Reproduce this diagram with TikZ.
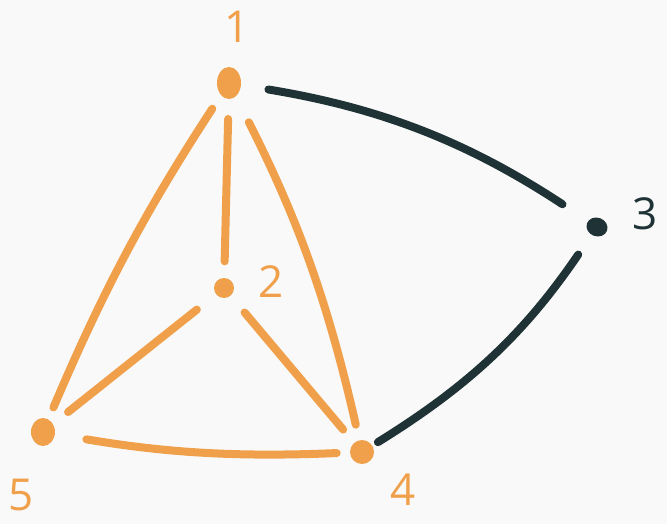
\documentclass[tikz,border=0pt]{standalone}
\usepackage{fontspec}
\setmainfont{Open Sans}
\usetikzlibrary{shapes.geometric}
\definecolor{orng}{HTML}{F0A04B}
\definecolor{dark}{HTML}{1F3336}
\definecolor{bg}{HTML}{F9F9F9}
\begin{document}
\begin{tikzpicture}[x=0.75pt,y=-0.75pt,
  dotnode/.style={circle,inner sep=0pt,draw=none},
  lbl/.style={font=\fontsize{33}{33}\selectfont,inner sep=0pt},
  oedge/.style={draw=orng,line width=6pt,line cap=round},
  dedge/.style={draw=dark,line width=6pt,line cap=round}]
\fill[bg] (0,0) rectangle (667,524);
\useasboundingbox (0,0) rectangle (667,524);
\coordinate (n1) at (229,83);
\coordinate (n2) at (224,288);
\coordinate (n3) at (597,227);
\coordinate (n4) at (362,452);
\coordinate (n5) at (43,432);
\node[ellipse,inner sep=0pt,fill=orng,minimum width=18pt,minimum height=24pt] (d1) at (n1) {};
\node[dotnode,fill=orng,minimum size=15pt] (d2) at (n2) {};
\node[ellipse,inner sep=0pt,fill=dark,minimum width=16pt,minimum height=14pt,rotate=-20] (d3) at (n3) {};
\node[dotnode,fill=orng,minimum size=18pt] (d4) at (n4) {};
\node[ellipse,inner sep=0pt,fill=orng,minimum width=18pt,minimum height=21pt] (d5) at (n5) {};
\node[lbl,text=orng] (l1) at (237,27) {1};
\node[lbl,text=orng] (l2) at (271,282) {2};
\node[lbl,text=dark] (l3) at (645,214) {3};
\node[lbl,text=orng] (l4) at (403,490) {4};
\node[lbl,text=orng] (l5) at (21,495) {5};
\draw[oedge,shorten <=23pt,shorten >=20pt] (n1) to[bend right=5] (n5);
\draw[oedge,shorten <=27pt,shorten >=20pt] (n1) to (n2);
\draw[oedge,shorten <=33pt,shorten >=21pt] (n1) to[bend left=7] (n4);
\draw[dedge,shorten <=30pt,shorten >=31pt] (n1) to[bend left=12] (n3);
\draw[dedge,shorten <=25pt,shorten >=14pt] (n3) to[bend left=12] (n4);
\draw[oedge,shorten <=26pt,shorten >=24pt] (n2) to (n5);
\draw[oedge,shorten <=24pt,shorten >=22pt] (n2) to (n4);
\draw[oedge,shorten <=33pt,shorten >=19pt] (n5) to[bend right=6] (n4);
\end{tikzpicture}
\end{document}
